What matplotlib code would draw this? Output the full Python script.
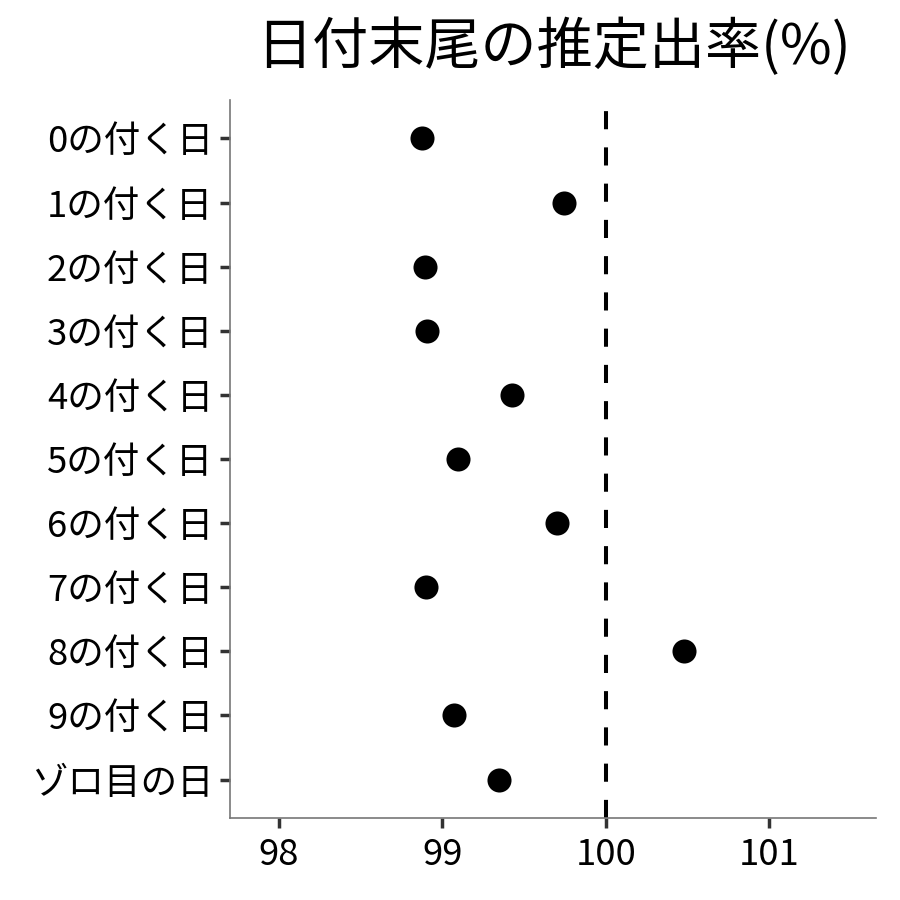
import matplotlib
matplotlib.use("Agg")
import matplotlib.pyplot as plt

plt.rcParams['font.family'] = ['Noto Sans CJK JP', 'DejaVu Sans']

categories = ["0の付く日", "1の付く日", "2の付く日", "3の付く日", "4の付く日",
              "5の付く日", "6の付く日", "7の付く日", "8の付く日", "9の付く日", "ゾロ目の日"]
values = [98.876, 99.745, 98.894, 98.906, 99.427, 99.096, 99.702, 98.90, 100.48, 99.07, 99.347]
x_ticks = [98, 99, 100, 101]
ref_value = 100
title = "日付末尾の推定出率(%)"

fig = plt.figure(figsize=(9, 9), dpi=100)
ax = fig.add_axes([0.2556, 0.0911, 0.7178, 0.7978])

ypos = list(range(len(categories)))
ax.axvline(ref_value, color='black', lw=2.9, dashes=(4.5, 4.5), zorder=1)
ax.scatter(values, ypos, s=300, color='black', zorder=3, linewidths=0)

ax.set_yticks(ypos)
ax.set_yticklabels(categories)
ax.set_xticks(x_ticks)
ax.set_xticklabels([str(t) for t in x_ticks])
ax.set_xlim(97.70, 101.656)
ax.set_ylim(len(categories) - 1 + 0.6, -0.6)

for s in ['top', 'right']:
    ax.spines[s].set_visible(False)
for s in ['left', 'bottom']:
    ax.spines[s].set_color('#777777')
    ax.spines[s].set_linewidth(1.2)
ax.tick_params(axis='both', length=7, width=2.5, color='#333333',
               labelsize=26.3, labelcolor='black', pad=5)
ax.tick_params(axis='x', pad=7)

fig.text(0.615, 0.947, title, ha='center', va='center', fontsize=40.4)

fig.savefig("out.png", dpi=100, facecolor='white')
